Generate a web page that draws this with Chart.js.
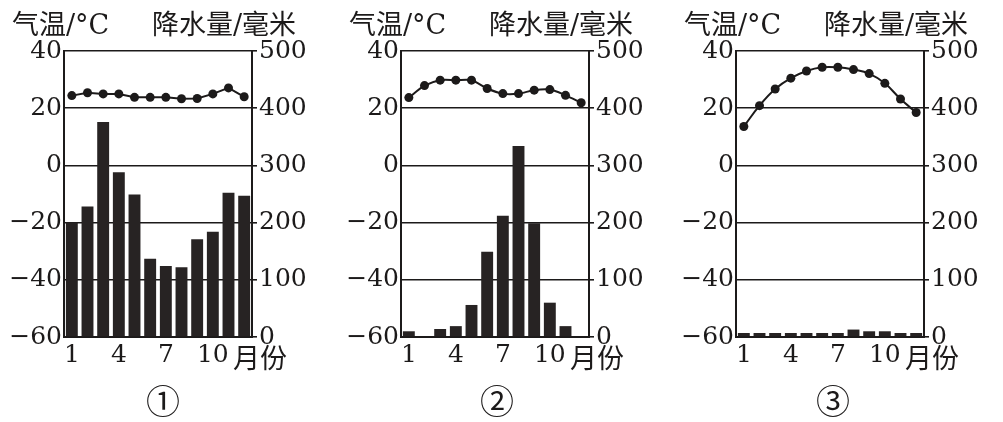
<!DOCTYPE html>
<html>
<head>
<meta charset="utf-8">
<script src="https://cdn.jsdelivr.net/npm/chart.js@4/dist/chart.umd.min.js"></script>
<style>
  body { margin: 0; background: #fff; width: 1003px; height: 422px; position: relative; overflow: hidden; }
  .panel { position: absolute; top: 0; }
  .txt { position: absolute; color: #1c1a1a; font-family: "Noto Sans CJK SC", sans-serif; line-height: 1; white-space: nowrap; }
  .lat { font-family: "DejaVu Serif", serif; }
  .title { top: 9px; font-size: 27px; }
  .month { top: 343px; font-size: 27px; }
  .num { top: 383px; font-size: 34px; }
</style>
</head>
<body>
<canvas id="c1" class="panel" width="322" height="370" style="left:0px"></canvas>
<canvas id="c2" class="panel" width="322" height="370" style="left:337px"></canvas>
<canvas id="c3" class="panel" width="322" height="370" style="left:672px"></canvas>

<div class="txt title" style="left:12px">气温<span class="lat">/°C</span></div>
<div class="txt title" style="left:152px">降水量<span class="lat">/</span>毫米</div>
<div class="txt title" style="left:349px">气温<span class="lat">/°C</span></div>
<div class="txt title" style="left:489px">降水量<span class="lat">/</span>毫米</div>
<div class="txt title" style="left:684px">气温<span class="lat">/°C</span></div>
<div class="txt title" style="left:824px">降水量<span class="lat">/</span>毫米</div>

<div class="txt month" style="left:233px">月份</div>
<div class="txt month" style="left:570px">月份</div>
<div class="txt month" style="left:905px">月份</div>

<div class="txt num" style="left:146px">①</div>
<div class="txt num" style="left:480px">②</div>
<div class="txt num" style="left:816px">③</div>

<script>
const months = ['1', '2', '3', '4', '5', '6', '7', '8', '9', '10', '11', '12'];
const shownMonths = ['1', '4', '7', '10'];

const temp1 = [24.4, 25.4, 25, 25, 23.8, 23.8, 23.8, 23.3, 23.4, 25, 27.1, 24];
const rain1 = [200, 228, 376, 288, 249, 137, 124, 122, 171, 184, 252, 247];

const temp2 = [23.7, 27.9, 29.8, 29.8, 29.8, 26.9, 25.1, 25.1, 26.3, 26.5, 24.5, 21.9];
const rain2 = [10, 0, 14, 19, 56, 149, 212, 334, 199, 60, 19, 0];

const temp3 = [13.6, 20.9, 26.7, 30.5, 33, 34.3, 34.3, 33.5, 32.1, 28.7, 23.2, 18.5];
const rain3 = [7, 7, 7, 7, 7, 7, 7, 13, 10, 10, 7, 7];

const ink = '#1c1a1a';
const barInk = '#272323';
const tickFont = { family: 'DejaVu Serif', size: 25 };

function makeChart(id, temps, rains, tension) {
  return new Chart(document.getElementById(id), {
    data: {
      labels: months,
      datasets: [
        {
          type: 'line',
          data: temps,
          yAxisID: 'y',
          borderColor: ink,
          backgroundColor: ink,
          borderWidth: 2,
          pointRadius: 4.5,
          pointBorderWidth: 0,
          tension: tension,
          order: 0
        },
        {
          type: 'bar',
          data: rains,
          yAxisID: 'y1',
          backgroundColor: barInk,
          barPercentage: 0.76,
          categoryPercentage: 1,
          order: 1
        }
      ]
    },
    options: {
      responsive: false,
      animation: false,
      events: [],
      layout: { padding: { top: 51, left: 0, right: 0, bottom: 0 } },
      plugins: { legend: { display: false }, tooltip: { enabled: false } },
      scales: {
        x: {
          offset: true,
          grid: { display: false, drawTicks: false },
          border: { display: true, color: ink, width: 2 },
          ticks: {
            color: ink, font: tickFont, padding: 3, maxRotation: 0, autoSkip: false,
            callback: function (v, i) { return shownMonths.includes(months[i]) ? months[i] : ''; }
          },
          afterFit: s => { s.height = 33; }
        },
        y: {
          position: 'left',
          min: -60, max: 40,
          grid: { color: ink, lineWidth: 1.6, drawTicks: false },
          border: { display: true, color: ink, width: 2 },
          ticks: {
            stepSize: 20, color: ink, font: tickFont, padding: 2,
            callback: v => String(v).replace('-', '\u2212')
          },
          afterFit: s => { s.width = 64; }
        },
        y1: {
          position: 'right',
          min: 0, max: 500,
          grid: { drawOnChartArea: false, drawTicks: true, tickLength: 5, color: ink, lineWidth: 1.6 },
          border: { display: true, color: ink, width: 2 },
          ticks: { stepSize: 100, color: ink, font: tickFont, padding: 2 },
          afterFit: s => { s.width = 70; }
        }
      }
    }
  });
}

makeChart('c1', temp1, rain1, 0);
makeChart('c2', temp2, rain2, 0.3);
makeChart('c3', temp3, rain3, 0.4);
</script>
</body>
</html>
